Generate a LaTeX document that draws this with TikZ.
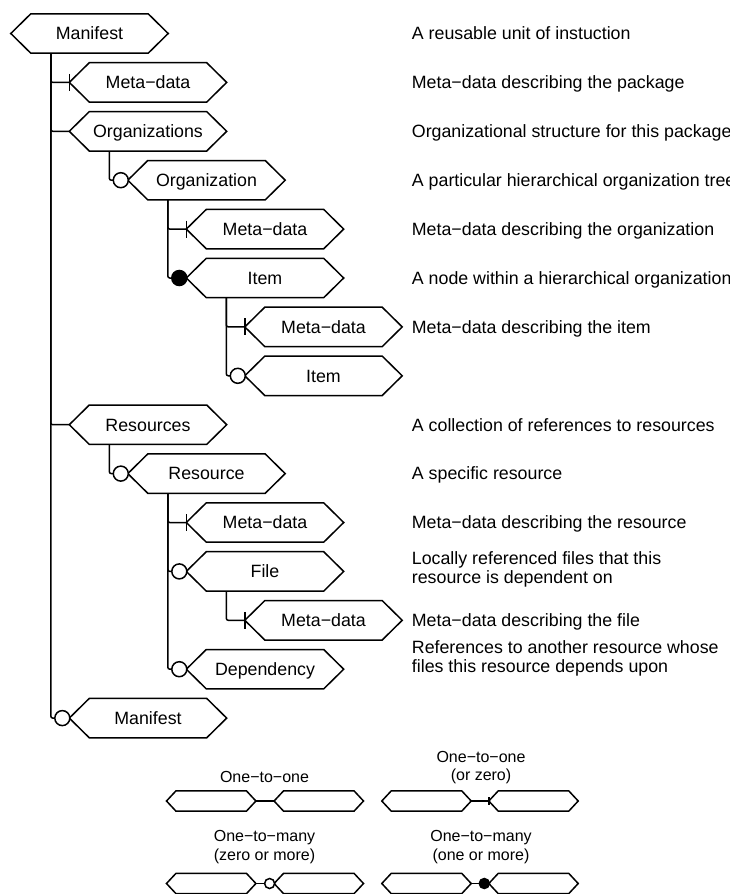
\documentclass[tikz,border=0pt]{standalone}
\usepackage{fontspec}
\setmainfont{Liberation Sans}
\usetikzlibrary{calc}

% hexagon outline around a (rectangular) node, pointed by #2 on both sides
\newcommand{\hexoutline}[2]{%
  \draw[hexline] (#1.north west) -- (#1.north east) -- ([xshift=#2pt]#1.east)
    -- (#1.south east) -- (#1.south west) -- ([xshift=-#2pt]#1.west) -- cycle;}
% element: name, x of left point, row y, label
\newcommand{\element}[4]{%
  \node[elem] (#1) at (#2+78.5,#3) {#4};
  \coordinate (#1-in) at ([xshift=-20pt]#1.west);
  \coordinate (#1-out) at ([xshift=20pt]#1.south west);
  \hexoutline{#1}{20}}
% legend box: name, centre x, centre y
\newcommand{\keybox}[3]{%
  \node[keyelem] (#1) at (#2,#3) {};
  \coordinate (#1-in) at ([xshift=-9.5pt]#1.west);
  \coordinate (#1-out) at ([xshift=9.5pt]#1.east);
  \hexoutline{#1}{9.5}}

\begin{document}
\begin{tikzpicture}[x=1pt, y=-1pt,
  hexline/.style={line width=1.5pt, line join=miter},
  elem/.style={rectangle, inner sep=0pt, minimum width=117pt, minimum height=39pt,
    text height=12.7pt, text depth=0pt, font=\fontsize{17.8}{19.7}\selectfont},
  keyelem/.style={rectangle, inner sep=0pt, minimum width=70pt, minimum height=20pt},
  desc/.style={anchor=base west, inner sep=0pt, font=\fontsize{17.8}{19.7}\selectfont},
  keytext/.style={anchor=base, inner sep=0pt, font=\fontsize{16}{19}\selectfont},
  link/.style={line width=1.5pt, rounded corners=2pt},
  onlyone/.style={line width=1.5pt},
  zeromany/.style={line width=1.5pt, fill=white},
  onemany/.style={line width=1.5pt, fill=black}]
\useasboundingbox (0,0) rectangle (729,894);
\clip (0,0) rectangle (729,894);

% ---- the package structure ----
\element{manifest}{11}{33.5}{Manifest}
\element{pkgmeta}{69.5}{82.4}{Meta−data}
\element{orgs}{69.5}{131.3}{Organizations}
\element{org}{128}{180.2}{Organization}
\element{orgmeta}{186.5}{229.1}{Meta−data}
\element{item}{186.5}{278.0}{Item}
\element{itemmeta}{245}{326.9}{Meta−data}
\element{subitem}{245}{375.8}{Item}
\element{ress}{69.5}{424.7}{Resources}
\element{res}{128}{473.6}{Resource}
\element{resmeta}{186.5}{522.5}{Meta−data}
\element{file}{186.5}{571.4}{File}
\element{filemeta}{245}{620.3}{Meta−data}
\element{dep}{186.5}{669.2}{Dependency}
\element{submanifest}{69.5}{718.1}{Manifest}

% ---- tree connectors ----
\foreach \p/\c in {manifest/pkgmeta, manifest/orgs, manifest/ress, manifest/submanifest,
  orgs/org, org/orgmeta, org/item, item/itemmeta, item/subitem, ress/res,
  res/resmeta, res/file, res/dep, file/filemeta}
  \draw[link] (\p-out) |- (\c-in);

% ---- cardinality marks ----
\foreach \c in {pkgmeta, orgmeta, itemmeta, resmeta, filemeta}
  \draw[onlyone] ([yshift=8.5pt]\c-in) -- ([yshift=-8.5pt]\c-in);
\foreach \c in {org, subitem, res, file, dep, submanifest}
  \draw[zeromany] ([xshift=-7pt]\c-in) circle[radius=7.5pt];
\draw[onemany] ([xshift=-7pt]item-in) circle[radius=7.5pt];

% ---- descriptions ----
\node[desc] (d0) at (411.7,39.8) {A reusable unit of instuction};
\node[desc] (d1) at (411.7,88.7) {Meta−data describing the package};
\node[desc] (d2) at (411.7,137.6) {Organizational structure for this package};
\node[desc] (d3) at (411.7,186.5) {A particular hierarchical organization tree};
\node[desc] (d4) at (411.7,235.4) {Meta−data describing the organization};
\node[desc] (d5) at (411.7,284.3) {A node within a hierarchical organization};
\node[desc] (d6) at (411.7,333.2) {Meta−data describing the item};
\node[desc] (d8) at (411.7,431.0) {A collection of references to resources};
\node[desc] (d9) at (411.7,479.9) {A specific resource};
\node[desc] (d10) at (411.7,528.8) {Meta−data describing the resource};
\node[desc] (d11a) at (411.7,564.0) {Locally referenced files that this};
\node[desc] (d11b) at (411.7,583.7) {resource is dependent on};
\node[desc] (d12) at (411.7,626.6) {Meta−data describing the file};
\node[desc] (d13a) at (411.7,653.0) {References to another resource whose};
\node[desc] (d13b) at (411.7,672.7) {files this resource depends upon};

% ---- key ----
\node[keytext] (k1) at (264.5,782.7) {One−to−one};
\node[keytext] (k2a) at (481,762.7) {One−to−one};
\node[keytext] (k2b) at (481,780.7) {(or zero)};
\node[keytext] (k3a) at (264.5,841.7) {One−to−many};
\node[keytext] (k3b) at (264.5,860.7) {(zero or more)};
\node[keytext] (k4a) at (481,841.7) {One−to−many};
\node[keytext] (k4b) at (481,860.7) {(one or more)};

\keybox{ka1}{211.2}{801}
\keybox{kb1}{318.8}{801}
\keybox{ka2}{426.5}{801}
\keybox{kb2}{533.5}{801}
\keybox{ka3}{211.2}{883.5}
\keybox{kb3}{318.8}{883.5}
\keybox{ka4}{426.5}{883.5}
\keybox{kb4}{533.5}{883.5}

\foreach \i in {1,2,3,4}
  \draw[onlyone] (ka\i-out) -- (kb\i-in);
\draw[onlyone] ([yshift=4pt]kb2-in) -- ([yshift=-4pt]kb2-in);
\draw[zeromany] ([xshift=-4.5pt]kb3-in) circle[radius=5pt];
\draw[onemany] ([xshift=-4.5pt]kb4-in) circle[radius=5pt];
\end{tikzpicture}
\end{document}
